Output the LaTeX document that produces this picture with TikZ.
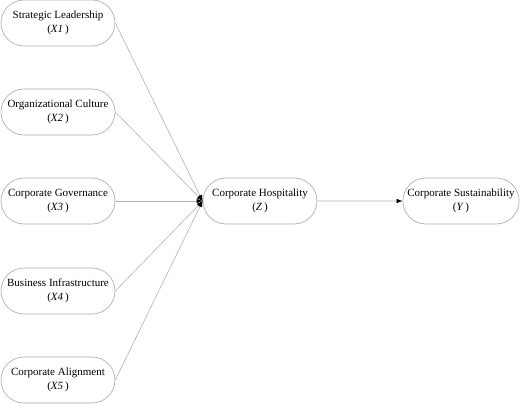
\documentclass[tikz,border=0pt]{standalone}
\usepackage{fontspec}
\setmainfont{Liberation Serif}
\usetikzlibrary{shapes.misc,arrows.meta}
\tikzset{
  var/.style={rounded rectangle,draw=gray!70,line width=0.6pt,minimum width=116pt,minimum height=46pt,align=center,inner sep=1pt,font=\fontsize{11}{14.5}\selectfont},
  link/.style={draw=gray!60,line width=0.6pt,-{Latex[length=6pt,width=4.5pt,black]}}
}
\begin{document}
\begin{tikzpicture}[x=1pt,y=-1pt]
\useasboundingbox (0,0) rectangle (520,404);
\node[var] (X1) at (58,23) {Strategic Leadership\\(\textit{X1}\,)};
\node[var] (X2) at (58,112) {Organizational Culture\\(\textit{X2}\,)};
\node[var] (X3) at (58,201) {Corporate Governance\\(\textit{X3}\,)};
\node[var] (X4) at (58,291) {Business Infrastructure\\(\textit{X4}\,)};
\node[var] (X5) at (58,380) {Corporate Alignment\\(\textit{X5}\,)};
\node[var] (Z) at (260,201) {Corporate Hospitality\\(\textit{Z}\,)};
\node[var,minimum width=113pt] (Y) at (461,201) {Corporate Sustainability\\(\textit{Y}\,)};
\draw[link] (X1.east) -- (Z.west);
\draw[link] (X2.east) -- (Z.west);
\draw[link] (X3.east) -- (Z.west);
\draw[link] (X4.east) -- (Z.west);
\draw[link] (X5.east) -- (Z.west);
\draw[link] (Z) -- (Y);
\end{tikzpicture}
\end{document}
